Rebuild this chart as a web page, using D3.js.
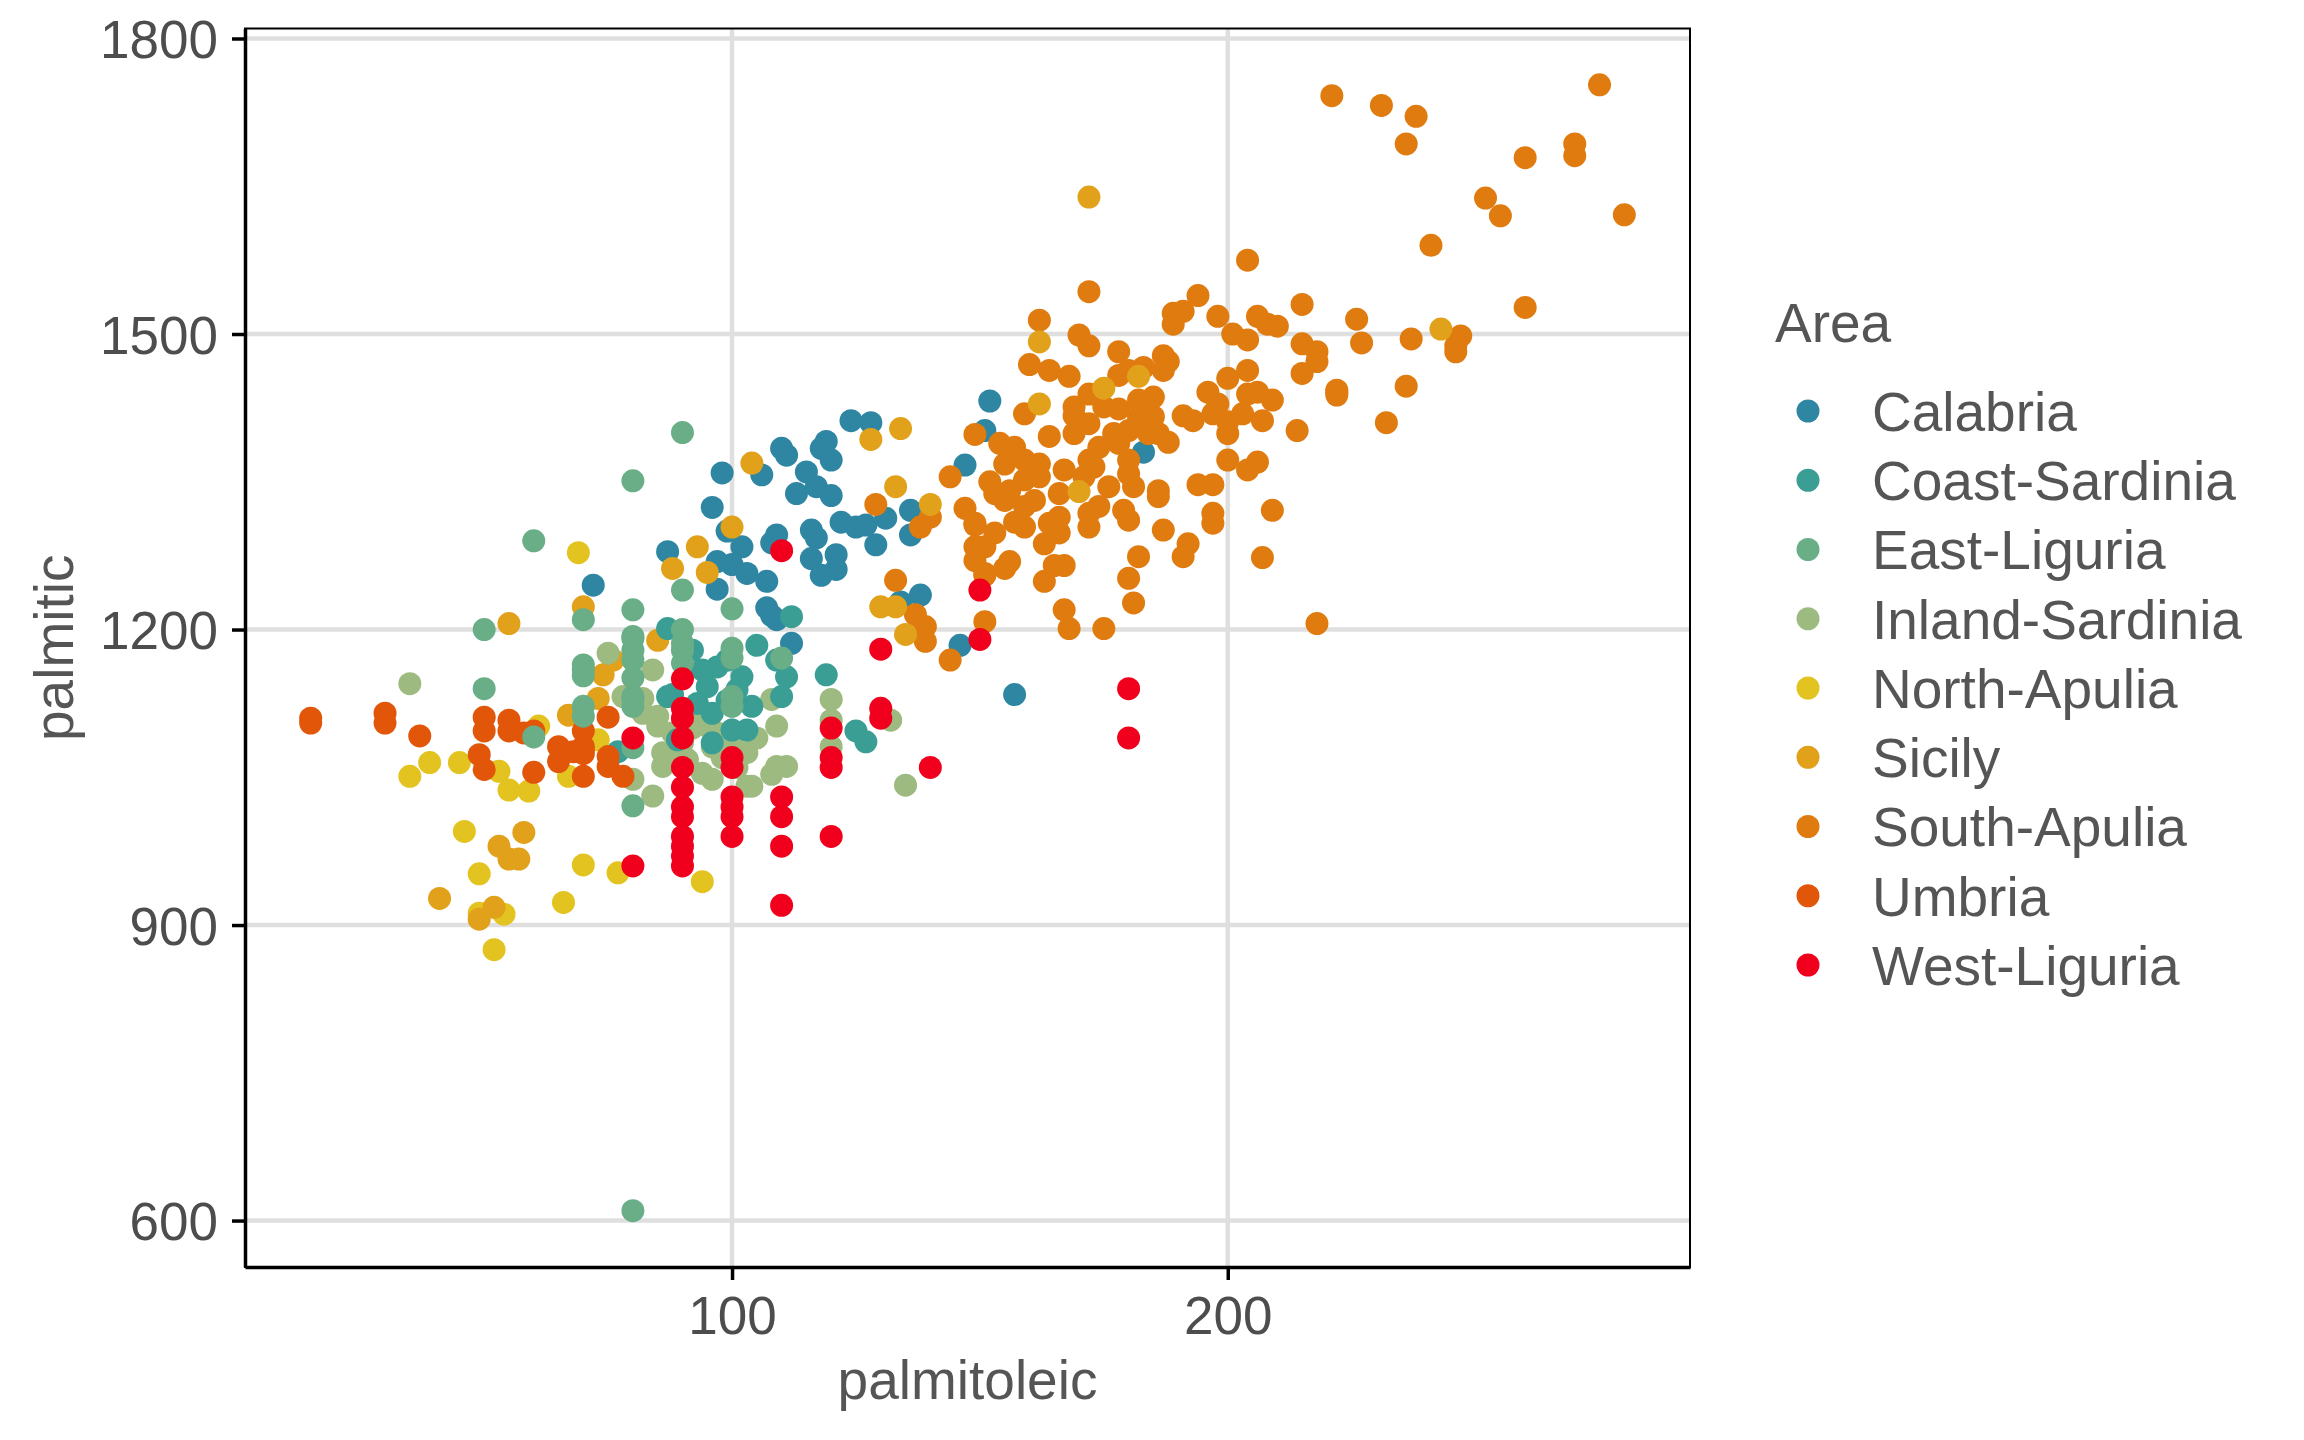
<!DOCTYPE html>
<html>
<head>
<meta charset="utf-8">
<script src="https://cdn.jsdelivr.net/npm/d3@7"></script>
<style>
  body { margin: 0; background: #fff; }
  text { font-family: "Liberation Sans", Arial, sans-serif; }
</style>
</head>
<body>
<svg id="chart" width="2304" height="1440"></svg>
<script>
// palmitoleic (x) vs palmitic (y), one array per area
const northApulia = [[39,1065],[35,1051],[45,1065],[53,1056],[55,1037],[59,1036],[61,1102],[46,995],[49,952],[54,911],[52,875],[66,923],[70,961],[77,953],[73,1088],[67,1051],[49,912],[94,944],[69,1278]];
const calabria = [[72,1245],[97,1241],[107,1249],[107,1222],[109,1210],[138,1235],[134,1228],[112,1186],[146,1184],[98,1359],[106,1357],[110,1384],[111,1377],[119,1391],[118,1384],[120,1372],[124,1412],[128,1410],[152,1432],[151,1402],[147,1367],[115,1360],[113,1338],[117,1345],[120,1336],[96,1324],[122,1309],[125,1304],[127,1306],[131,1313],[136,1321],[136,1296],[129,1286],[116,1301],[117,1293],[109,1296],[108,1288],[99,1300],[102,1284],[87,1279],[97,1269],[100,1266],[103,1257],[116,1272],[118,1255],[121,1276],[121,1261],[108,1214],[183,1380],[157,1134]];
const southApulia = [[133,1250],[137,1215],[139,1203],[139,1188],[144,1169],[129,1327],[138,1304],[140,1314],[144,1355],[147,1323],[149,1306],[149,1398],[151,1208],[151,1257],[149,1284],
  [172,1543],[204,1575],[162,1514],[170,1499],[172,1488],[178,1482],[189,1521],[191,1523],[189,1510],[194,1539],[198,1518],[201,1500],[204,1494],[206,1518],[208,1510],[210,1508],[215,1530],[215,1490],[218,1482],[218,1472],[215,1460],[222,1441],
  [160,1469],[164,1463],[168,1457],[187,1478],[188,1472],[187,1463],[183,1466],[180,1463],[178,1458],[185,1436],[204,1463],[200,1455],[196,1441],[198,1429],[204,1439],[206,1441],[209,1433],[191,1417],[193,1412],[197,1419],[200,1411],[203,1419],[207,1412],[214,1402],[200,1399],
  [159,1419],[164,1396],[154,1389],[157,1385],[169,1426],[169,1417],[172,1439],[175,1426],[178,1424],[182,1433],[185,1416],[182,1416],[169,1399],[172,1409],[177,1399],[180,1402],[184,1399],[186,1399],[188,1390],[174,1385],[178,1389],[180,1372],[172,1372],[173,1365],
  [167,1362],[162,1368],[159,1372],[155,1368],[152,1350],[156,1341],[159,1352],[162,1355],[166,1338],[171,1355],[176,1345],[180,1358],[181,1345],[186,1341],[186,1335],[153,1338],[155,1331],[159,1325],[161,1331],[149,1308],[157,1309],[153,1298],[159,1304],
  [164,1308],[166,1314],[166,1298],[163,1287],[172,1318],[174,1325],[172,1304],[179,1321],[180,1311],[187,1301],[192,1287],[191,1274],[197,1318],[197,1308],[194,1347],[197,1347],[200,1372],[204,1362],[206,1370],[209,1321],[207,1273],[182,1274],[180,1252],[181,1227],
  [167,1220],[168,1201],[175,1201],[218,1206],[165,1265],[167,1265],[163,1249],[156,1269],[155,1262],[151,1284],[151,1255],[149,1270],
  [241,1590],[260,1527],[226,1515],[227,1491],[237,1495],[247,1498],[246,1488],[246,1482],[222,1443],[222,1438],[236,1447],[232,1410],
  [221,1742],[231,1732],[238,1721],[236,1693],[275,1753],[260,1679],[270,1693],[270,1681],[252,1638],[255,1620],[280,1621]];
const sicily = [[55,1206],[41,927],[53,980],[55,967],[58,994],[52,918],[49,906],[70,1223],[85,1189],[74,1154],[73,1130],[67,1113],[76,1169],[88,1262],[95,1258],[130,1223],[133,1223],[135,1195],[104,1369],[128,1393],[134,1404],[133,1345],[140,1327],[100,1304],[93,1284],[162,1492],[182,1457],[175,1445],[162,1429],[170,1340],[172,1639],[243,1505],[57,967]];
const inlandSardinia = [[35,1145],[75,1176],[84,1159],[78,1132],[82,1130],[85,1102],[86,1075],[86,1061],[84,1031],[80,1048],[85,1112],[93,1115],[95,1102],[96,1081],[94,1054],[96,1048],[103,1041],[109,1061],[111,1061],[109,1102],[108,1129],[120,1129],[120,1108],[120,1081],[132,1108],[135,1042],[103,1075],[88,1095],[91,1068],[82,1115],[108,1053],[104,1041],[90,1085],[92,1100],[98,1070],[100,1085],[105,1090],[88,1070],[97,1095],[101,1060]];
const coastSardinia = [[87,1201],[87,1132],[77,1076],[89,1088],[112,1213],[92,1179],[97,1162],[95,1142],[96,1115],[101,1139],[104,1122],[105,1184],[109,1169],[111,1152],[110,1132],[103,1098],[100,1098],[96,1085],[88,1134],[119,1154],[125,1097],[127,1086],[94,1159],[99,1169],[99,1128],[102,1152],[93,1125]];
const umbria = [[15,1110],[15,1105],[30,1115],[30,1105],[37,1092],[50,1111],[50,1097],[55,1108],[55,1097],[58,1095],[60,1097],[49,1073],[50,1058],[60,1055],[65,1081],[65,1066],[68,1076],[70,1081],[70,1074],[70,1097],[70,1051],[75,1111],[75,1071],[75,1061],[78,1051],[70,1078]];
const eastLiguria = [[50,1200],[50,1140],[70,1210],[70,1164],[70,1153],[70,1122],[70,1112],[80,1220],[80,1193],[80,1179],[80,1169],[80,1151],[80,1132],[80,1122],[80,1080],[80,1021],[60,1091],[90,1200],[90,1186],[90,1166],[90,1240],[100,1221],[90,1179],[100,1181],[100,1171],[100,1132],[100,1122],[110,1171],[80,1191],[80,1129],[90,1400],[80,1351],[60,1290],[80,610],[70,1159]];
const westLiguria = [[80,1090],[80,960],
  [90,1150],[90,1120],[90,1110],[90,1090],[90,1060],[90,1040],[90,1020],[90,1010],[90,990],[90,980],[90,970],[90,960],
  [100,1070],[100,1060],[100,1030],[100,1020],[100,1010],[100,990],
  [110,1030],[110,1010],[110,980],[110,920],[110,1280],
  [120,1100],[120,1070],[120,1060],[120,990],
  [130,1120],[130,1110],[130,1180],[140,1060],[150,1240],[150,1190],[180,1140],[180,1090]];

const areas = ['Calabria', 'Coast-Sardinia', 'East-Liguria', 'Inland-Sardinia', 'North-Apulia', 'Sicily', 'South-Apulia', 'Umbria', 'West-Liguria'];
const areaColors = ['#2E86A2', '#3A9E94', '#69AE86', '#9DBA80', '#E3C31F', '#E2A11B', '#E07B0F', '#E2560A', '#F0001C'];
// drawing order follows the rows of the data set
const series = [
  ['North-Apulia', northApulia], ['Calabria', calabria], ['South-Apulia', southApulia],
  ['Sicily', sicily], ['Inland-Sardinia', inlandSardinia], ['Coast-Sardinia', coastSardinia],
  ['Umbria', umbria], ['East-Liguria', eastLiguria], ['West-Liguria', westLiguria]
];
const xTicks = [100, 200];
const yTicks = [600, 900, 1200, 1500, 1800];

const panel = { left: 245, right: 1690, top: 28.5, bottom: 1267 };
const points = series.flatMap(([area, arr]) => arr.map(([x, y]) => ({ area, x, y })));

// ggplot-style 5% expansion
const pad = ([a, b]) => [a - (b - a) * 0.05, b + (b - a) * 0.05];
const x = d3.scaleLinear().domain(pad(d3.extent(points, (d) => d.x))).range([panel.left, panel.right]);
const y = d3.scaleLinear().domain(pad(d3.extent(points, (d) => d.y))).range([panel.bottom, panel.top]);
const color = d3.scaleOrdinal().domain(areas).range(areaColors);

const svg = d3.select('#chart');

// grid
const grid = svg.append('g').attr('stroke', '#DFDFDF').attr('stroke-width', 4.5);
grid.selectAll('line.gx').data(xTicks).join('line')
  .attr('x1', x).attr('x2', x).attr('y1', panel.top).attr('y2', panel.bottom);
grid.selectAll('line.gy').data(yTicks).join('line')
  .attr('y1', y).attr('y2', y).attr('x1', panel.left).attr('x2', panel.right);

// points
svg.append('g').selectAll('circle').data(points).join('circle')
  .attr('cx', (d) => x(d.x))
  .attr('cy', (d) => y(d.y))
  .attr('r', 11.5)
  .attr('fill', (d) => color(d.area));

// panel border (thin) + axes (thick)
svg.append('rect')
  .attr('x', panel.left).attr('y', panel.top)
  .attr('width', panel.right - panel.left).attr('height', panel.bottom - panel.top)
  .attr('fill', 'none').attr('stroke', '#000').attr('stroke-width', 2);

const fmt = d3.format('d');
const xAxis = svg.append('g').attr('transform', `translate(0,${panel.bottom})`)
  .call(d3.axisBottom(x).tickValues(xTicks).tickFormat(fmt).tickSizeInner(13).tickSizeOuter(0).tickPadding(14));
const yAxis = svg.append('g').attr('transform', `translate(${panel.left},0)`)
  .call(d3.axisLeft(y).tickValues(yTicks).tickFormat(fmt).tickSizeInner(13).tickSizeOuter(0).tickPadding(14));
[xAxis, yAxis].forEach((ax) => {
  ax.select('.domain').attr('stroke', '#000').attr('stroke-width', 3.5);
  ax.selectAll('.tick line').attr('stroke', '#000').attr('stroke-width', 3.5);
  ax.selectAll('.tick text')
    .attr('font-size', 53)
    .attr('font-family', '"Liberation Sans", Arial, sans-serif')
    .attr('fill', '#4D4D4D');
});
yAxis.selectAll('.tick text').attr('dy', '0.36em');
xAxis.selectAll('.tick text').attr('dy', '0.75em');

// axis titles
svg.append('text')
  .attr('x', (panel.left + panel.right) / 2).attr('y', 1399)
  .attr('text-anchor', 'middle').attr('font-size', 55).attr('fill', '#555')
  .text('palmitoleic');
svg.append('text')
  .attr('transform', `translate(73,${(panel.top + panel.bottom) / 2}) rotate(-90)`)
  .attr('text-anchor', 'middle').attr('font-size', 55).attr('fill', '#555')
  .text('palmitic');

// legend
const legend = svg.append('g');
legend.append('text').attr('x', 1775).attr('y', 342)
  .attr('font-size', 55).attr('fill', '#555').text('Area');
const item = legend.selectAll('g.item').data(areas).join('g')
  .attr('transform', (d, i) => `translate(0,${411 + i * 69.25})`);
item.append('circle').attr('cx', 1808).attr('cy', 0).attr('r', 11.5).attr('fill', (d) => color(d));
item.append('text').attr('x', 1872).attr('y', 0).attr('dy', '0.36em')
  .attr('font-size', 55).attr('fill', '#555').text((d) => d);
</script>
</body>
</html>
